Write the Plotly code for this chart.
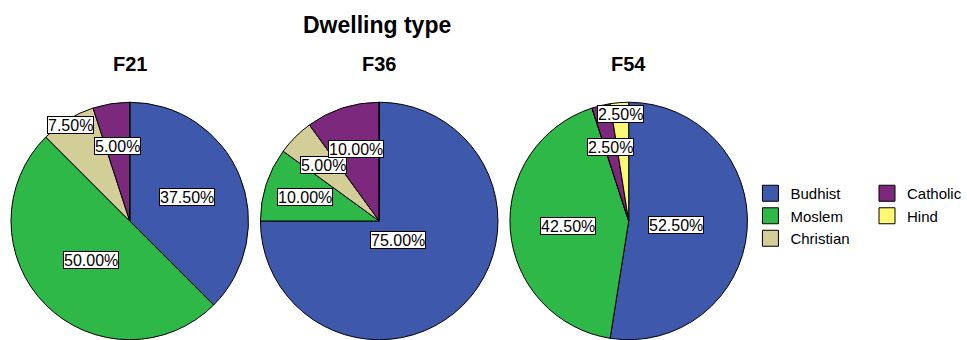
import math
import plotly.graph_objects as go

# Religion shares (%) by dwelling type
categories = ["Budhist", "Moslem", "Christian", "Catholic", "Hind"]
f21 = [37.5, 50.0, 7.5, 5.0, 0.0]
f36 = [75.0, 10.0, 5.0, 10.0, 0.0]
f54 = [52.5, 42.5, 0.0, 2.5, 2.5]
panel_names = ["F21", "F36", "F54"]
panel_values = [f21, f36, f54]

colors = ["#3E58AC", "#2EB848", "#D3CE97", "#7C287D", "#FBF873"]

# radial placement of each value label, as a fraction of the pie radius
label_radius = [
    [0.52, 0.46, 0.95, 0.64, 0.0],
    [0.22, 0.66, 0.66, 0.64, 0.0],
    [0.40, 0.51, 0.0, 0.64, 0.90],
]

FONT = "Liberation Sans, Arial"
W, H = 967, 340
R = 119
centers_x = [130, 380, 630]
center_y = 221

fig = go.Figure()
annotations = []

for i, (name, vals) in enumerate(zip(panel_names, panel_values)):
    cx = centers_x[i]
    dom_x = [(cx - R) / W, (cx + R) / W]
    dom_y = [(H - center_y - R) / H, (H - center_y + R) / H]

    fig.add_trace(go.Pie(
        labels=categories,
        values=vals,
        sort=False,
        direction="clockwise",
        rotation=0,
        marker=dict(colors=colors, line=dict(color="#000000", width=1)),
        textinfo="none",
        hoverinfo="label+percent",
        showlegend=False,
        domain=dict(x=dom_x, y=dom_y),
    ))

    # invisible axes laid over the pie: [-1, 1] spans the pie diameter
    ax_id = "" if i == 0 else str(i + 1)
    fig.update_layout(**{
        f"xaxis{ax_id}": dict(domain=dom_x, range=[-1, 1], visible=False,
                              fixedrange=True, anchor=f"y{ax_id}"),
        f"yaxis{ax_id}": dict(domain=dom_y, range=[-1, 1], visible=False,
                              fixedrange=True, anchor=f"x{ax_id}"),
    })

    total = sum(vals)
    cum = 0.0
    for j, v in enumerate(vals):
        if v > 0:
            mid = (cum + v / 2) / total * 2 * math.pi
            r = label_radius[i][j]
            annotations.append(dict(
                x=r * math.sin(mid), y=r * math.cos(mid),
                xref=f"x{ax_id}", yref=f"y{ax_id}",
                text=f"{v:.2f}%", showarrow=False,
                font=dict(family=FONT, size=16, color="#000000"),
                bgcolor="#FFFFFF", bordercolor="#000000", borderwidth=1, borderpad=0,
                height=16,
            ))
        cum += v

    # panel heading
    annotations.append(dict(
        x=cx / W, y=1 - 64 / H, xref="paper", yref="paper",
        text=f"<b>{name}</b>", showarrow=False, xanchor="center", yanchor="middle",
        font=dict(family=FONT, size=20, color="#000000"),
    ))

annotations.append(dict(
    x=378 / W, y=1 - 25 / H, xref="paper", yref="paper",
    text="<b>Dwelling type</b>", showarrow=False, xanchor="center", yanchor="middle",
    font=dict(family=FONT, size=23, color="#000000"),
))

# legend entries: two columns
legend_groups = ["legend", "legend", "legend", "legend2", "legend2"]
for cat, col, lg in zip(categories, colors, legend_groups):
    fig.add_trace(go.Scatter(
        x=[None], y=[None], mode="markers", name=cat,
        marker=dict(symbol="square", size=16, color=col,
                    line=dict(color="#000000", width=1)),
        legend=lg, hoverinfo="skip",
    ))

legend_font = dict(family=FONT, size=15, color="#000000")
fig.update_layout(
    width=W, height=H,
    margin=dict(l=0, r=0, t=0, b=0),
    paper_bgcolor="#FFFFFF",
    plot_bgcolor="#FFFFFF",
    annotations=annotations,
    legend=dict(x=752 / W, y=1 - 177 / H, xanchor="left", yanchor="top",
                font=legend_font, bgcolor="rgba(0,0,0,0)", itemsizing="trace",
                tracegroupgap=0),
    legend2=dict(x=869 / W, y=1 - 177 / H, xanchor="left", yanchor="top",
                 font=legend_font, bgcolor="rgba(0,0,0,0)", itemsizing="trace",
                 tracegroupgap=0),
)

fig.write_html("out.html")
